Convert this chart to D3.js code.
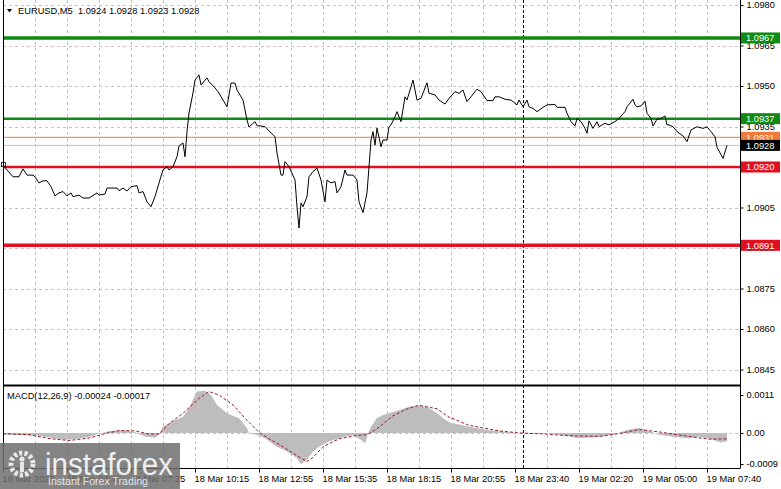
<!DOCTYPE html>
<html><head><meta charset="utf-8">
<script src="https://cdn.jsdelivr.net/npm/d3@7"></script>
<style>
html,body{margin:0;padding:0;background:#fff;}
svg{display:block;font-family:"Liberation Sans",Arial,sans-serif;}
</style></head><body>
<svg id="chart" width="781" height="489"></svg>
<script>
// ---------------- DATA ----------------
const symbolTitle = "EURUSD,M5  1.0924 1.0928 1.0923 1.0928";
const macdTitle = "MACD(12,26,9) -0.00024 -0.00017";

const priceBars = [0,2,5,8,10,12,15,16,18,20,22,24,26,28,30,32,34,35,38,40,43,47,48,51,52,57,58,60,62,64,67,68,70,72,74,76,78,80,82,83,85,87,88,90,91,92,93,95,96,98,99,102,103,106,108,110,112,114,116,117,120,122,123,126,127,129,131,133,136,137,139,140,141,143,146,147,148,149,150,152,153,155,157,159,161,162,164,166,167,169,171,172,175,177,178,180,182,183,184,185,186,187,189,190,192,193,194,196,197,199,201,202,205,207,209,212,213,216,218,221,223,226,228,230,232,234,236,237,239,242,245,246,248,251,254,257,258,260,262,263,265,267,270,272,276,277,281,282,284,286,287,289,291,292,293,295,297,298,301,303,306,308,311,312,315,316,317,319,321,322,324,325,327,329,331,332,333,335,337,340,342,344,347,350,352,354,356,357,360,362];
const priceValues = [1.09207,1.09189,1.09164,1.09164,1.09193,1.09170,1.09170,1.09163,1.09141,1.09149,1.09149,1.09127,1.09093,1.09104,1.09109,1.09093,1.09104,1.09090,1.09096,1.09085,1.09085,1.09104,1.09096,1.09100,1.09122,1.09122,1.09112,1.09122,1.09111,1.09127,1.09131,1.09104,1.09109,1.09071,1.09053,1.09090,1.09141,1.09189,1.09201,1.09189,1.09201,1.09238,1.09278,1.09289,1.09238,1.09331,1.09400,1.09474,1.09522,1.09541,1.09504,1.09530,1.09516,1.09493,1.09474,1.09448,1.09423,1.09511,1.09511,1.09485,1.09448,1.09374,1.09348,1.09368,1.09353,1.09352,1.09349,1.09334,1.09312,1.09252,1.09170,1.09170,1.09220,1.09201,1.09152,1.09053,1.08974,1.09067,1.09053,1.09090,1.09164,1.09183,1.09196,1.09152,1.09071,1.09152,1.09141,1.09146,1.09104,1.09127,1.09189,1.09170,1.09170,1.09152,1.09071,1.09031,1.09104,1.09201,1.09300,1.09331,1.09281,1.09344,1.09275,1.09300,1.09300,1.09349,1.09356,1.09386,1.09405,1.09368,1.09460,1.09448,1.09522,1.09448,1.09454,1.09512,1.09473,1.09467,1.09448,1.09433,1.09454,1.09479,1.09473,1.09485,1.09442,1.09460,1.09479,1.09488,1.09479,1.09446,1.09446,1.09460,1.09460,1.09451,1.09448,1.09430,1.09448,1.09423,1.09448,1.09423,1.09417,1.09405,1.09421,1.09430,1.09432,1.09421,1.09421,1.09399,1.09368,1.09352,1.09380,1.09368,1.09343,1.09325,1.09371,1.09343,1.09368,1.09349,1.09362,1.09356,1.09368,1.09380,1.09405,1.09423,1.09451,1.09430,1.09423,1.09426,1.09444,1.09399,1.09380,1.09352,1.09377,1.09380,1.09389,1.09356,1.09356,1.09349,1.09331,1.09315,1.09294,1.09337,1.09349,1.09343,1.09349,1.09331,1.09312,1.09273,1.09232,1.09280];

const histBars = [0,8,18,26,31,36,43,48,53,61,66,71,76,78,80,85,90,93,97,101,104,107,112,116,118,122,123,127,131,137,142,147,149,152,155,158,163,170,175,179,181,183,184,187,190,197,203,207,212,217,220,223,233,243,253,263,273,281,288,298,306,313,318,323,328,336,343,348,354,359,362];
const histValues = [-0.00005,-0.00006,-0.00008,-0.00015,-0.0002,-0.00018,-0.00012,-0.00002,0.00006,0.00008,0.00002,-0.0001,-0.00014,-0.00005,0.00018,0.00035,0.00047,0.00072,0.0012,0.00122,0.0011,0.00081,0.00057,0.00047,0.00043,0.00014,0.0,-0.00006,-0.00015,-0.0004,-0.00054,-0.00073,-0.00091,-0.00078,-0.00054,-0.0004,-0.00025,-0.00012,-0.00007,-0.0002,-0.0003,0.00005,0.00018,0.00043,0.00052,0.00064,0.00076,0.00079,0.00076,0.00057,0.00043,0.00031,0.00018,0.00008,0.00002,-0.00002,0.0,-0.00008,-0.00015,-0.00012,-0.00003,0.0001,0.00014,0.00006,-0.00005,-0.00012,-0.00015,-0.0001,-0.00018,-0.00028,-0.00024];

const signalBars = [0,13,23,33,43,51,58,66,73,78,83,90,98,103,108,115,123,128,133,140,147,152,155,160,168,177,182,187,195,203,208,217,223,233,248,258,271,283,298,308,318,328,343,353,362];
const signalValues = [-0.00002,-0.00005,-0.00016,-0.00022,-0.00015,-0.00002,0.00007,0.00006,-0.00003,-0.00003,0.00027,0.00057,0.001,0.0012,0.0011,0.00081,0.00031,0.00002,-0.00017,-0.0004,-0.00066,-0.00083,-0.00071,-0.0004,-0.00017,-0.00007,-0.00005,0.00012,0.0005,0.00072,0.0008,0.0007,0.00046,0.00022,0.00006,0.0,-0.00003,-0.00008,-0.0001,-0.00002,0.0001,0.00003,-0.0001,-0.00018,-0.00017];

const priceTicks = [1.0980,1.0965,1.0950,1.0935,1.0920,1.0905,1.0890,1.0875,1.0860,1.0845];
const macdTicks = [0.0011, 0, -0.0009];
const macdTickLabels = ["0.0011","0.00","-0.0009"];

const timeTickBars = [0,32,64,96,128,160,192,224,256,288,320,352];
const timeTickLabels = ["18 Mar 2025","18 Mar 04:45","18 Mar 07:25","18 Mar 10:15","18 Mar 12:55","18 Mar 15:35","18 Mar 18:15","18 Mar 20:55","18 Mar 23:40","19 Mar 02:20","19 Mar 05:00","19 Mar 07:40"];
const daySeparatorBar = 260;

const levelValues = [1.09678, 1.09379, 1.0931, 1.0928, 1.0920, 1.0891];
const levelLabels = ["1.0967","1.0937","1.0931","1.0928","1.0920","1.0891"];
const levelKinds  = ["targetMain","target","ask","bid","stop","stopMain"];

// ---------------- STYLES ----------------
const kindStyle = {
  targetMain:{line:"#0f8a12", width:3.5, box:"#0f8a12", text:"#ffffff"},
  target:{line:"#0f8a12", width:2.5, box:"#0f8a12", text:"#ffffff"},
  ask:{line:"#f07a3a", width:1, box:"#f07a3a", text:"#fff3ea"},
  bid:{line:"#c4c4c4", width:1, box:"#000000", text:"#ffffff"},
  stop:{line:"#e01020", width:2.7, box:"#e01020", text:"#ffffff"},
  stopMain:{line:"#e01020", width:3.5, box:"#e01020", text:"#ffffff"}
};
const FONT = 9.3;
const L = 3, R = 740, mainBottom = 385, macdBottom = 468;

// ---------------- SCALES ----------------
const svg = d3.select("#chart");
const x = d3.scaleLinear().domain([0, 368.5]).range([L, R]);
const y = d3.scaleLinear().domain([1.0980, 1.0845]).range([5, 369.5]);
const yM = d3.scaleLinear().domain([0.0011, -0.0009]).range([395, 464]);

const grid = svg.append("g").attr("stroke","#c4c4c4").attr("stroke-dasharray","3,3").attr("stroke-width",1);
// vertical gridlines
const vBars = d3.range(16, 368, 16);
grid.selectAll("line.v").data(vBars).join("line")
  .attr("x1",d=>Math.round(x(d))+0.5).attr("x2",d=>Math.round(x(d))+0.5)
  .attr("y1",0).attr("y2",mainBottom);
grid.selectAll("line.vm").data(vBars).join("line")
  .attr("x1",d=>Math.round(x(d))+0.5).attr("x2",d=>Math.round(x(d))+0.5)
  .attr("y1",mainBottom+2).attr("y2",macdBottom);
// horizontal gridlines
grid.selectAll("line.h").data(priceTicks).join("line")
  .attr("x1",L).attr("x2",R)
  .attr("y1",d=>Math.round(y(d))+0.5).attr("y2",d=>Math.round(y(d))+0.5);
grid.append("line").attr("x1",L).attr("x2",R)
  .attr("y1",Math.round(yM(0))+0.5).attr("y2",Math.round(yM(0))+0.5);

// day separator
svg.append("line")
  .attr("x1",Math.round(x(daySeparatorBar))+0.5).attr("x2",Math.round(x(daySeparatorBar))+0.5)
  .attr("y1",0).attr("y2",macdBottom)
  .attr("stroke","#000").attr("stroke-dasharray","3,2");

// level lines
const lv = levelValues.map((v,i)=>({v, label:levelLabels[i], s:kindStyle[levelKinds[i]]}));
svg.append("g").selectAll("line").data(lv).join("line")
  .attr("x1",L).attr("x2",R)
  .attr("y1",d=>y(d.v)).attr("y2",d=>y(d.v))
  .attr("stroke",d=>d.s.line).attr("stroke-width",d=>d.s.width);

// price line
const pts = priceBars.map((b,i)=>[b, priceValues[i]]);
svg.append("path").datum(pts)
  .attr("d", d3.line().x(d=>x(d[0])).y(d=>y(d[1])))
  .attr("fill","none").attr("stroke","#000").attr("stroke-width",1);
svg.append("rect").attr("x",x(priceBars[0])-1.5).attr("y",y(priceValues[0])-2.5)
  .attr("width",4).attr("height",4).attr("fill","none").attr("stroke","#000").attr("stroke-width",0.8);

// MACD histogram
const hist = histBars.map((b,i)=>[b, histValues[i]]);
svg.append("path").datum(hist)
  .attr("d", d3.area().x(d=>x(d[0])).y0(yM(0)).y1(d=>yM(d[1])))
  .attr("fill","#bdbdbd");
const sig = signalBars.map((b,i)=>[b, signalValues[i]]);
svg.append("path").datum(sig)
  .attr("d", d3.line().x(d=>x(d[0])).y(d=>yM(d[1])))
  .attr("fill","none").attr("stroke","#9a1c28").attr("stroke-width",1).attr("stroke-dasharray","3,2");

// frames
const frame = svg.append("g").attr("stroke","#000").attr("stroke-width",1);
frame.append("line").attr("x1",L+0.5).attr("x2",L+0.5).attr("y1",0).attr("y2",macdBottom);
frame.append("line").attr("x1",R+0.5).attr("x2",R+0.5).attr("y1",0).attr("y2",macdBottom);
frame.append("line").attr("x1",L).attr("x2",R).attr("y1",mainBottom+0.5).attr("y2",mainBottom+0.5).attr("stroke-width",2);
frame.append("line").attr("x1",L).attr("x2",R+0.5).attr("y1",macdBottom+0.5).attr("y2",macdBottom+0.5);

// right price axis
const ax = svg.append("g").attr("transform",`translate(${R+0.5},0)`)
  .call(d3.axisRight(y).tickValues(priceTicks).tickFormat(d3.format(".4f")).tickSize(3).tickPadding(3));
ax.select(".domain").remove();
ax.selectAll("text").attr("font-size",FONT).attr("font-family","Liberation Sans, Arial").attr("fill","#000");
ax.selectAll("line").attr("stroke","#000");

const axm = svg.append("g").attr("transform",`translate(${R+0.5},0)`)
  .call(d3.axisRight(yM).tickValues(macdTicks).tickFormat((d,i)=>macdTickLabels[i]).tickSize(3).tickPadding(3));
axm.select(".domain").remove();
axm.selectAll("text").attr("font-size",FONT).attr("font-family","Liberation Sans, Arial").attr("fill","#000");

// bottom time axis
const axb = svg.append("g").attr("transform",`translate(0,${macdBottom+0.5})`)
  .call(d3.axisBottom(x).tickValues(timeTickBars).tickFormat((d,i)=>timeTickLabels[i]).tickSize(4).tickPadding(3));
axb.select(".domain").remove();
axb.selectAll("text").attr("font-size",FONT).attr("font-family","Liberation Sans, Arial").attr("fill","#000")
  .attr("text-anchor","start").attr("dx",-1);

// level label boxes
const boxes = svg.append("g").selectAll("g").data(lv).join("g")
  .attr("transform",d=>`translate(${R+1},${y(d.v)})`);
boxes.append("rect").attr("x",0).attr("y",-5.5).attr("width",39).attr("height",11).attr("fill",d=>d.s.box);
boxes.append("text").attr("x",5).attr("y",3.4).attr("font-size",FONT).attr("fill",d=>d.s.text).text(d=>d.label);

// titles
svg.append("path").attr("d","M7,9 L12,9 L9.5,12.5 Z").attr("fill","#000");
svg.append("text").attr("x",18).attr("y",14).attr("font-size",FONT).attr("fill","#000")
  .attr("xml:space","preserve").style("white-space","pre").text(symbolTitle);
svg.append("text").attr("x",7).attr("y",399).attr("font-size",FONT).attr("fill","#000").text(macdTitle);

// watermark logo
const logo = svg.append("g");
logo.append("rect").attr("x",0).attr("y",443).attr("width",180).attr("height",46).attr("fill","#6e6e6e").attr("opacity",0.85);
const ic = logo.append("g").attr("transform","translate(22,464)").attr("fill","#e8e8e8").attr("stroke","#e8e8e8");
ic.append("circle").attr("r",11).attr("fill","none").attr("stroke-width",5).attr("stroke-dasharray","3.2,2.2");
ic.append("circle").attr("cx",0).attr("cy",-5).attr("r",2.6).attr("stroke","none");
ic.append("rect").attr("x",-2).attr("y",-2).attr("width",4).attr("height",10).attr("stroke","none");
logo.append("text").attr("x",45).attr("y",475).attr("font-size",31).attr("fill","#efefef")
  .attr("textLength",128).attr("lengthAdjust","spacingAndGlyphs").text("instaforex");
logo.append("text").attr("x",48).attr("y",485).attr("font-size",10.5).attr("fill","#e4e4e4")
  .attr("textLength",100).attr("lengthAdjust","spacingAndGlyphs").text("Instant Forex Trading");
</script>
</body></html>
